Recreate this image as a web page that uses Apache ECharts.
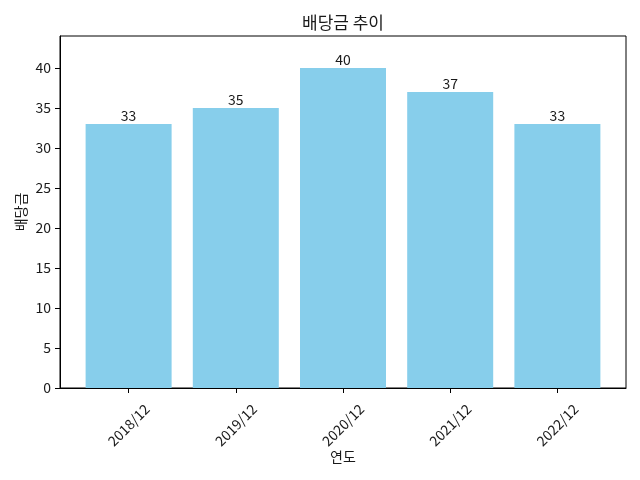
<!DOCTYPE html>
<html>
<head>
<meta charset="utf-8">
<script src="https://cdn.jsdelivr.net/npm/echarts@6/dist/echarts.min.js"></script>
<style>
  html, body { margin: 0; padding: 0; background: #fff; }
  #chart { width: 640px; height: 480px; }
</style>
</head>
<body>
<div id="chart"></div>
<script>
// 연도별 배당금
var years = ['2018/12', '2019/12', '2020/12', '2021/12', '2022/12'];
var dividends = [33, 35, 40, 37, 33];
var yTicks = [0, 5, 10, 15, 20, 25, 30, 35, 40];

var font = '"Noto Sans CJK KR", "Noto Sans", sans-serif';
var ink = '#1a1a1a';

window.onload = function () {
    var chart = echarts.init(document.getElementById('chart'));

    var xTicks = years.map(function (y, i) { return i; });
    var barData = dividends.map(function (v, i) { return [i, v]; });

    chart.setOption({
        animation: false,
        title: {
            text: '배당금 추이',
            left: 338,
            top: 9,
            textAlign: 'center',
            textStyle: { fontFamily: font, fontSize: 17, fontWeight: 'normal', color: ink }
        },
        grid: {
            left: 60, right: 14, top: 36, bottom: 92,
            show: true, borderColor: '#000', borderWidth: 1, backgroundColor: 'transparent'
        },
        xAxis: {
            type: 'value',
            min: -0.64,
            max: 4.64,
            name: '연도',
            nameLocation: 'middle',
            nameGap: 62,
            nameMoveOverlap: false,
            nameTextStyle: { fontFamily: font, fontSize: 14, color: ink },
            axisLine: { show: true, onZero: false, lineStyle: { color: '#000', width: 1 } },
            axisTick: { show: true, customValues: xTicks, length: 5, lineStyle: { color: '#000' } },
            axisLabel: {
                customValues: xTicks,
                rotate: 45,
                align: 'center',
                verticalAlign: 'middle',
                margin: 37,
                fontFamily: font,
                fontSize: 14,
                color: ink,
                formatter: function (v) { return years[v]; }
            },
            splitLine: { show: false }
        },
        yAxis: {
            type: 'value',
            min: 0,
            max: 44,
            name: '배당금',
            nameLocation: 'middle',
            nameGap: 32,
            nameMoveOverlap: false,
            nameTextStyle: { fontFamily: font, fontSize: 14, color: ink },
            axisLine: { show: true, onZero: false, lineStyle: { color: '#000', width: 1 } },
            axisTick: { show: true, customValues: yTicks, length: 5, lineStyle: { color: '#000' } },
            axisLabel: {
                customValues: yTicks,
                margin: 9,
                fontFamily: font,
                fontSize: 14,
                color: ink
            },
            splitLine: { show: false }
        },
        series: [{
            type: 'bar',
            data: barData,
            barWidth: 86,
            itemStyle: { color: '#87CEEB' },
            label: {
                show: true,
                position: 'top',
                distance: 1,
                fontFamily: font,
                fontSize: 14,
                color: ink,
                formatter: function (p) { return p.value[1]; }
            }
        }]
    });
};
</script>
</body>
</html>
